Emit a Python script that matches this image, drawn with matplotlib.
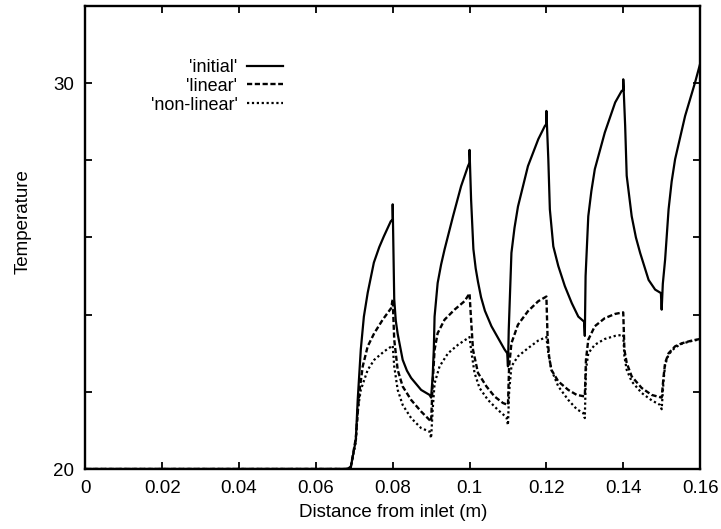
import matplotlib
matplotlib.use("Agg")
import matplotlib.pyplot as plt

plt.rcParams['font.family'] = ['Liberation Sans', 'DejaVu Sans']

# 'initial' (solid)
x_initial = [0.0, 0.068, 0.0691, 0.0704, 0.0709, 0.0717, 0.0725, 0.0735, 0.0751, 0.0765, 0.0777, 0.0795, 0.08, 0.08,
             0.0804, 0.0808, 0.0813, 0.0826, 0.0837, 0.0848, 0.0874, 0.0896, 0.09,
             0.0904, 0.0907, 0.0909, 0.0917, 0.0926, 0.0935, 0.0957, 0.0978, 0.0996, 0.1, 0.1,
             0.1004, 0.1010, 0.1016, 0.1022, 0.1030, 0.1040, 0.1057, 0.1074, 0.1091, 0.1098, 0.11,
             0.1102, 0.1109, 0.1117, 0.1126, 0.1152, 0.1179, 0.1196, 0.12, 0.12,
             0.1205, 0.1209, 0.1218, 0.1231, 0.1248, 0.1266, 0.1283, 0.1298, 0.13,
             0.1302, 0.1309, 0.1317, 0.1326, 0.1352, 0.1379, 0.1396, 0.14, 0.14,
             0.1405, 0.1409, 0.1422, 0.1433, 0.1444, 0.1466, 0.1483, 0.1498, 0.15,
             0.1503, 0.1509, 0.1518, 0.1526, 0.1535, 0.1561, 0.1587, 0.16]
t_initial = [20.0, 20.0, 20.05, 20.75, 21.8, 23.1, 23.95, 24.57, 25.35, 25.75, 26.03, 26.42, 26.47, 26.86,
             24.4, 23.85, 23.5, 22.83, 22.55, 22.36, 22.05, 21.92, 21.85,
             22.4, 23.1, 23.95, 24.82, 25.3, 25.69, 26.55, 27.33, 27.85, 27.94, 28.27,
             26.99, 25.7, 25.2, 24.85, 24.45, 24.1, 23.7, 23.4, 23.1, 23.0, 22.66,
             23.6, 25.6, 26.25, 26.8, 27.85, 28.55, 28.89, 28.94, 29.28,
             28.03, 26.73, 25.77, 25.26, 24.74, 24.3, 23.95, 23.82, 23.45,
             25.0, 26.55, 27.2, 27.77, 28.72, 29.5, 29.8, 29.82, 30.1,
             28.89, 27.6, 26.55, 26.0, 25.6, 24.9, 24.65, 24.56, 24.13,
             24.8, 25.43, 26.73, 27.45, 28.03, 29.15, 30.02, 30.5]

# 'linear' (dashed)
x_linear = [0.0, 0.068, 0.0691, 0.0704, 0.0713, 0.0722, 0.0735, 0.0752, 0.0774, 0.0796, 0.08,
            0.0804, 0.0813, 0.0826, 0.0848, 0.0874, 0.0896, 0.09,
            0.0904, 0.0909, 0.0917, 0.0935, 0.0961, 0.0987, 0.1,
            0.1004, 0.1009, 0.1022, 0.1044, 0.1065, 0.1087, 0.11,
            0.1103, 0.1109, 0.1126, 0.1152, 0.1179, 0.12,
            0.1203, 0.1207, 0.1213, 0.1231, 0.1257, 0.1279, 0.13,
            0.1303, 0.1309, 0.1326, 0.1352, 0.1379, 0.14,
            0.1403, 0.1409, 0.1422, 0.1448, 0.1474, 0.15,
            0.1505, 0.1509, 0.1518, 0.1535, 0.1553, 0.1579, 0.16]
t_linear = [20.0, 20.0, 20.05, 20.8, 21.97, 22.66, 23.18, 23.52, 23.87, 24.17, 24.4,
            23.35, 22.57, 22.14, 21.79, 21.49, 21.27, 21.23,
            22.22, 23.09, 23.52, 23.87, 24.13, 24.35, 24.55,
            23.87, 23.09, 22.49, 22.14, 21.88, 21.71, 21.66,
            22.66, 23.26, 23.74, 24.09, 24.35, 24.47,
            23.44, 22.92, 22.57, 22.27, 22.05, 21.92, 21.88,
            22.83, 23.35, 23.7, 23.91, 24.02, 24.06,
            23.09, 22.75, 22.4, 22.1, 21.92, 21.85,
            22.4, 22.75, 23.0, 23.18, 23.26, 23.33, 23.37]

# 'non-linear' (dotted)
x_nonlinear = [0.0, 0.068, 0.0691, 0.0704, 0.0709, 0.0717, 0.0735, 0.0752, 0.0778, 0.08,
               0.0804, 0.0813, 0.0826, 0.0848, 0.0874, 0.0896, 0.09,
               0.0904, 0.0909, 0.0922, 0.0944, 0.097, 0.1,
               0.1004, 0.1013, 0.1026, 0.1048, 0.1074, 0.1096, 0.11,
               0.1103, 0.1109, 0.1126, 0.1152, 0.1179, 0.12,
               0.1205, 0.1213, 0.1231, 0.1257, 0.1279, 0.1296, 0.13,
               0.1303, 0.1309, 0.1326, 0.1352, 0.1379, 0.14,
               0.1403, 0.1409, 0.1422, 0.1448, 0.1474, 0.1496, 0.15,
               0.1505, 0.1509, 0.1518, 0.1535, 0.1553, 0.1579, 0.16]
t_nonlinear = [20.0, 20.0, 20.05, 20.7, 21.53, 22.05, 22.57, 22.83, 23.05, 23.2,
               22.66, 22.05, 21.66, 21.32, 21.06, 20.97, 20.8,
               21.53, 22.22, 22.66, 23.0, 23.22, 23.42,
               23.09, 22.49, 22.1, 21.79, 21.53, 21.34, 21.14,
               22.0, 22.66, 22.92, 23.13, 23.33, 23.42,
               23.0, 22.57, 22.14, 21.79, 21.55, 21.45, 21.32,
               22.57, 23.0, 23.22, 23.37, 23.45, 23.48,
               22.92, 22.57, 22.27, 21.97, 21.78, 21.66, 21.55,
               22.3, 22.7, 22.97, 23.15, 23.25, 23.32, 23.36]

x_ticks = [0, 0.02, 0.04, 0.06, 0.08, 0.1, 0.12, 0.14, 0.16]
x_ticklabels = ['0', '0.02', '0.04', '0.06', '0.08', '0.1', '0.12', '0.14', '0.16']
y_ticks = [20, 22, 24, 26, 28, 30]
y_ticklabels = ['20', '', '', '', '', '30']

fig = plt.figure(figsize=(7.21, 5.29), dpi=100)
ax = fig.add_axes([0.1183, 0.1134, 0.8527, 0.8753])

ax.plot(x_initial, t_initial, color='black', lw=1.6, linestyle='-', label="'initial'")
ax.plot(x_linear, t_linear, color='black', lw=1.7, linestyle=(0, (2.2, 1.1)), label="'linear'")
ax.plot(x_nonlinear, t_nonlinear, color='black', lw=1.6, linestyle=(0, (1, 1.2)), label="'non-linear'")

ax.set_xlim(0, 0.16)
ax.set_ylim(20, 32)
ax.set_xticks(x_ticks)
ax.set_xticklabels(x_ticklabels)
ax.set_yticks(y_ticks)
ax.set_yticklabels(y_ticklabels)
ax.tick_params(direction='in', top=True, right=True, length=5, width=1.3, labelsize=13.5, pad=8)
for s in ax.spines.values():
    s.set_linewidth(1.7)

ax.set_xlabel('Distance from inlet (m)', fontsize=13.5, labelpad=5)
ax.set_ylabel('Temperature', fontsize=13.5)
ax.yaxis.set_label_coords(-0.088, 0.535)

ax.legend(loc='upper right', bbox_to_anchor=(0.337, 0.905), frameon=False, markerfirst=False,
          fontsize=13, handlelength=2.0, handletextpad=0.55, labelspacing=0.1, borderpad=0)

fig.savefig('out.png', dpi=100)
